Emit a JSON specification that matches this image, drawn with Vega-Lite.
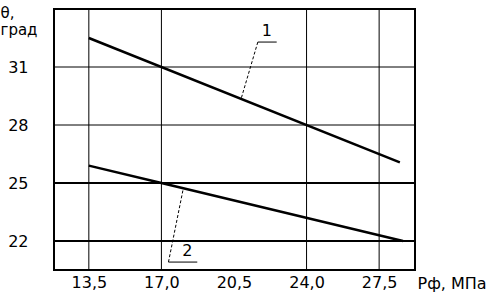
{
  "$schema": "https://vega.github.io/schema/vega-lite/v6.json",
  "autosize": "none",
  "width": 361,
  "height": 261,
  "padding": {"left": 54, "top": 9, "right": 71, "bottom": 33},
  "config": {
    "view": {"stroke": "black", "strokeWidth": 2},
    "font": "DejaVu Sans",
    "text": {"font": "DejaVu Sans"}
  },
  "datasets": {
    "vgrid": [{"x": 13.5}, {"x": 17.0}, {"x": 24.0}, {"x": 27.5}],
    "hthin": [{"y": 28}, {"y": 31}],
    "hthick": [{"y": 22}, {"y": 25}],
    "curves": [
      {"series": "1", "p": 13.5, "theta": 32.5},
      {"series": "1", "p": 28.5, "theta": 26.07},
      {"series": "2", "p": 13.5, "theta": 25.9},
      {"series": "2", "p": 17.0, "theta": 25.0},
      {"series": "2", "p": 28.65, "theta": 22.0}
    ],
    "underlines": [
      {"x1": 21.65, "x2": 22.56, "y": 32.29},
      {"x1": 17.34, "x2": 18.73, "y": 20.91}
    ],
    "leaders": [
      {"x1": 21.65, "y1": 32.29, "x2": 20.84, "y2": 29.34},
      {"x1": 17.34, "y1": 20.91, "x2": 18.06, "y2": 24.74}
    ],
    "labels": [
      {"label": "1", "x": 22.08, "y": 32.85},
      {"label": "2", "x": 18.25, "y": 21.5}
    ]
  },
  "layer": [
    {
      "data": {"name": "vgrid"},
      "mark": {"type": "rule", "color": "black", "strokeWidth": 1},
      "encoding": {
        "x": {
          "field": "x", "type": "quantitative",
          "scale": {"domain": [11.82, 29.23], "nice": false, "zero": false},
          "axis": {
            "values": [13.5, 17.0, 20.5, 24.0, 27.5],
            "labelExpr": "replace(format(datum.value, '.1f'), '.', ',')",
            "grid": false, "ticks": false, "domain": false,
            "labelFont": "DejaVu Sans", "labelFontSize": 16, "labelColor": "black",
            "labelPadding": 4,
            "title": "Рф, МПа",
            "titleFont": "DejaVu Sans", "titleFontSize": 16, "titleFontWeight": "normal", "titleColor": "black",
            "titleAlign": "left", "titleBaseline": "middle",
            "titleX": 363, "titleY": 13, "titleAnchor": "start"
          }
        }
      }
    },
    {
      "data": {"name": "hthin"},
      "mark": {"type": "rule", "color": "black", "strokeWidth": 1},
      "encoding": {
        "y": {
          "field": "y", "type": "quantitative",
          "scale": {"domain": [20.5, 34], "nice": false, "zero": false},
          "axis": {
            "values": [22, 25, 28, 31],
            "grid": false, "ticks": false, "domain": false,
            "labelFont": "DejaVu Sans", "labelFontSize": 16, "labelColor": "black",
            "labelPadding": 26,
            "title": ["θ,", "град"],
            "titleFont": "DejaVu Sans", "titleFontSize": 15, "titleFontWeight": "normal", "titleColor": "black",
            "titleAngle": 0, "titleAlign": "left", "titleBaseline": "top",
            "titleLineHeight": 17,
            "titleX": -54, "titleY": -4
          }
        }
      }
    },
    {
      "data": {"name": "hthick"},
      "mark": {"type": "rule", "color": "black", "strokeWidth": 2},
      "encoding": {
        "y": {"field": "y", "type": "quantitative"}
      }
    },
    {
      "data": {"name": "curves"},
      "mark": {"type": "line", "color": "black", "strokeWidth": 2.5},
      "encoding": {
        "x": {"field": "p", "type": "quantitative"},
        "y": {"field": "theta", "type": "quantitative"},
        "detail": {"field": "series"}
      }
    },
    {
      "data": {"name": "underlines"},
      "mark": {"type": "rule", "color": "black", "strokeWidth": 1},
      "encoding": {
        "x": {"field": "x1", "type": "quantitative"},
        "x2": {"field": "x2"},
        "y": {"field": "y", "type": "quantitative"}
      }
    },
    {
      "data": {"name": "leaders"},
      "mark": {"type": "rule", "color": "black", "strokeWidth": 1, "strokeDash": [3, 2]},
      "encoding": {
        "x": {"field": "x1", "type": "quantitative"},
        "x2": {"field": "x2"},
        "y": {"field": "y1", "type": "quantitative"},
        "y2": {"field": "y2"}
      }
    },
    {
      "data": {"name": "labels"},
      "mark": {"type": "text", "color": "black", "fontSize": 16, "font": "DejaVu Sans", "baseline": "middle", "align": "center"},
      "encoding": {
        "x": {"field": "x", "type": "quantitative"},
        "y": {"field": "y", "type": "quantitative"},
        "text": {"field": "label"}
      }
    }
  ]
}
